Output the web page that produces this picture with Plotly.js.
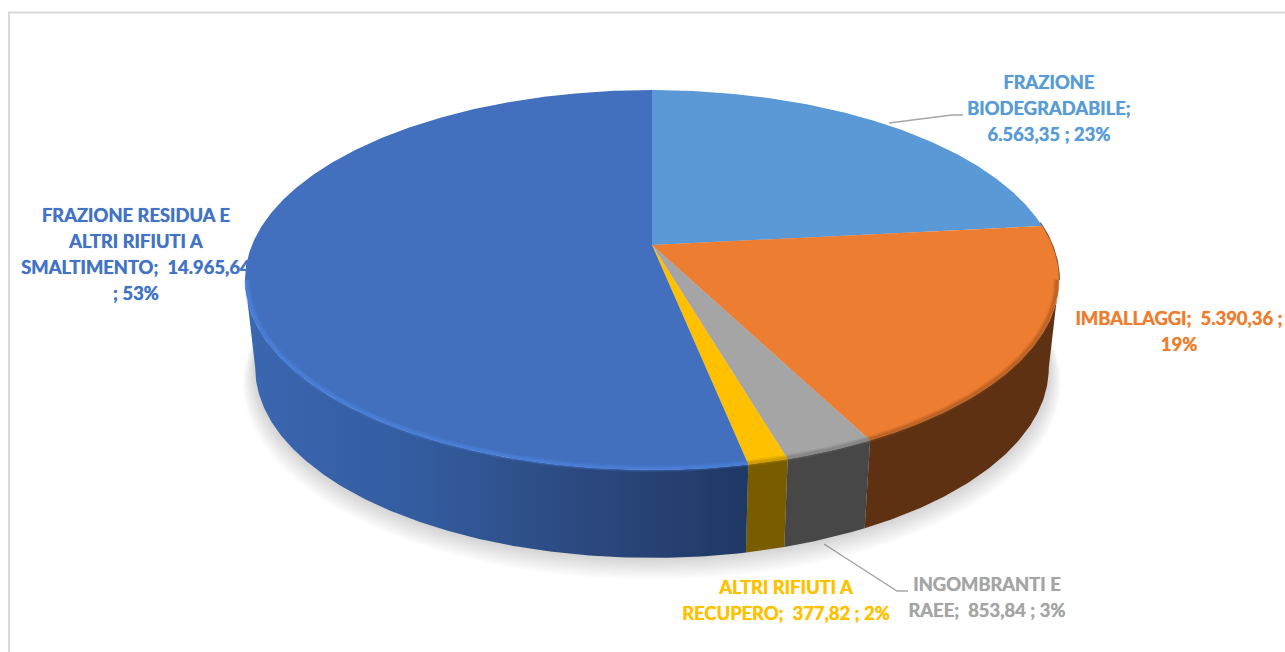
<!DOCTYPE html>
<html>
<head>
<meta charset="utf-8">
<script src="https://cdn.plot.ly/plotly-3.0.1.min.js"></script>
<style>html,body{margin:0;padding:0;background:#fff;overflow:hidden}#chart{width:1285px;height:652px}</style>
</head>
<body>
<div id="chart"></div>
<script>
// ---- data ----
var categories = ['FRAZIONE BIODEGRADABILE','IMBALLAGGI','INGOMBRANTI E RAEE','ALTRI RIFIUTI A RECUPERO','FRAZIONE RESIDUA E ALTRI RIFIUTI A SMALTIMENTO'];
var values = [6563.35, 5390.36, 853.84, 377.82, 14965.64];
var topColors = ['#5a98d6','#ed7d31','#a5a5a5','#ffc000','#4270bf'];
var wallColors = ['#355d80','#5f3113','#474747','#7a5c00','#2d4f8f'];
var rimColors = ['#5a98d6','#a4561f','#767676','#b88b00','#4f86e6'];
var labelColors = ['#5b9bd5','#ed7d31','#a5a5a5','#ffc000','#4472c4'];
var labelLines = [
  ['FRAZIONE','BIODEGRADABILE;','6.563,35 ; 23%'],
  ['IMBALLAGGI;\u00A0\u00A05.390,36 ;','19%'],
  ['INGOMBRANTI E','RAEE;\u00A0\u00A0853,84 ; 3%'],
  ['ALTRI RIFIUTI A','RECUPERO;\u00A0\u00A0377,82 ; 2%'],
  ['FRAZIONE RESIDUA E','ALTRI RIFIUTI A','SMALTIMENTO;\u00A0\u00A014.965,64',';\u00A053%']
];
// ---- layout of the labels and view ----
var labelCx = [1049, 1179, 987, 786, 136];
var labelY0 = [84, 320, 586, 589, 217];
var labelGap = 26.2;
var leaders = [
  {x:[889,952,963], y:[123,115,115]},
  {x:[824,897,908], y:[544,591,591]}
];
var FONT = 'Lato, "Open Sans", sans-serif';
// ---- projection of the tilted disc ----
var P = {cx:652, cy:245, R:400, S:183.5, a:0.184, h:88, k:0.975};
function discPt(t, shrink){
  shrink = shrink || 1;
  var a = t*2*Math.PI, u = Math.sin(a), v = Math.cos(a), w = 1 + P.a*v;
  return [P.cx + shrink*P.R*u/w, P.cy - shrink*P.S*v/w];
}
function topPt(t){ return discPt(t,1); }
function bottomPt(t, scale, dx, dy){
  scale = scale || 1; dx = dx || 0; dy = dy || 0;
  var a = t*2*Math.PI, u = Math.sin(a), v = Math.cos(a), w = 1 + P.a*v;
  return [P.cx + dx + P.k*scale*P.R*u/w, P.cy + P.h + dy - scale*P.S*v/w];
}
function arc(fn, t0, t1){
  var n = Math.max(4, Math.ceil(Math.abs(t1-t0)*720)), out = [];
  for (var i=0;i<=n;i++) out.push(fn(t0+(t1-t0)*i/n));
  return out;
}
function xs(p){return p.map(function(q){return q[0];});}
function ys(p){return p.map(function(q){return q[1];});}

var total = values.reduce(function(s,v){return s+v;},0);
var bounds = [0];
values.forEach(function(v){bounds.push(bounds[bounds.length-1]+v/total);});
var frontStart = 0.25 + Math.asin(P.a)/(2*Math.PI);   // right silhouette
var frontEnd = 1 - frontStart;                        // left silhouette

var traces = [];
function poly(p, color, extra){
  var t = {x:xs(p), y:ys(p), mode:'lines', fill:'toself', fillcolor:color, line:{width:0}, hoverinfo:'skip', showlegend:false};
  if (extra) for (var k in extra) t[k]=extra[k];
  traces.push(t);
}
function strokeLine(p, color, width, opacity){
  traces.push({x:xs(p), y:ys(p), mode:'lines', line:{color:color,width:width,shape:'linear'}, opacity:opacity, hoverinfo:'skip', showlegend:false});
}

// frame
traces.push({x:[9,9,1285], y:[652,12.5,12.5], mode:'lines', line:{color:'#d9d9d9',width:2}, hoverinfo:'skip', showlegend:false});

// labels sit below the disc, the disc hides the end of the long one
var tx=[],ty=[],tt=[],tc=[];
labelLines.forEach(function(lines,i){
  lines.forEach(function(s,j){
    tx.push(labelCx[i]); ty.push(labelY0[i]+j*labelGap); tt.push(s); tc.push(labelColors[i]);
  });
});
traces.push({x:tx,y:ty,text:tt,mode:'text',textposition:'middle center',
  textfont:{family:FONT,size:18.4,weight:700,color:tc,shadow:tc.map(function(c){return '0 0 0.8px '+c;})},
  cliponaxis:false,hoverinfo:'skip',showlegend:false});

// leaders
leaders.forEach(function(l){
  traces.push({x:l.x,y:l.y,mode:'lines',line:{color:'#a6a6a6',width:1.4},hoverinfo:'skip',showlegend:false});
});

// soft shadow
[1,2,3,4,5,6,7,8,9,10,11,12,13,14].forEach(function(n){
  var s = 1 + n*0.0022;
  var p = arc(function(t){return bottomPt(t,s,0,n*1.05);},0,1);
  poly(p,'rgba(90,90,90,0.018)');
});

// walls
values.forEach(function(v,i){
  var t0 = Math.max(bounds[i],frontStart), t1 = Math.min(bounds[i+1],frontEnd);
  if (t1<=t0) return;
  var p = arc(topPt,t0,t1).concat(arc(function(t){return bottomPt(t);},t1,t0));
  var extra = null;
  if (i===4) extra = {fillgradient:{type:'horizontal',colorscale:[[0,'#3b67b1'],[0.35,'#335c9f'],[0.7,'#2b477c'],[1,'#1f3864']]}};
  poly(p,wallColors[i],extra);
});

// dark underside seen just past the silhouette, upper right
strokeLine(arc(topPt,bounds[1]-0.003,frontStart),'#6b3a18',2,0.85);

// top faces
values.forEach(function(v,i){
  poly([[P.cx,P.cy]].concat(arc(topPt,bounds[i],bounds[i+1])),topColors[i]);
});

// soft rim between top face and wall
values.forEach(function(v,i){
  var t0 = Math.max(bounds[i],frontStart), t1 = Math.min(bounds[i+1],frontEnd);
  if (t1<=t0) return;
  var p = arc(function(t){return discPt(t,0.995);},t0,t1);
  strokeLine(p,rimColors[i],7,0.14);
  strokeLine(p,rimColors[i],5,0.22);
  strokeLine(p,rimColors[i],3,0.4);
});

Plotly.newPlot('chart',traces,{
  width:1285,height:652,
  margin:{l:0,r:0,t:0,b:0},
  paper_bgcolor:'#ffffff',plot_bgcolor:'#ffffff',
  showlegend:false,
  xaxis:{range:[0,1285],visible:false,fixedrange:true},
  yaxis:{range:[652,0],visible:false,fixedrange:true},
  hovermode:false
},{displayModeBar:false,staticPlot:true});
</script>
</body>
</html>
